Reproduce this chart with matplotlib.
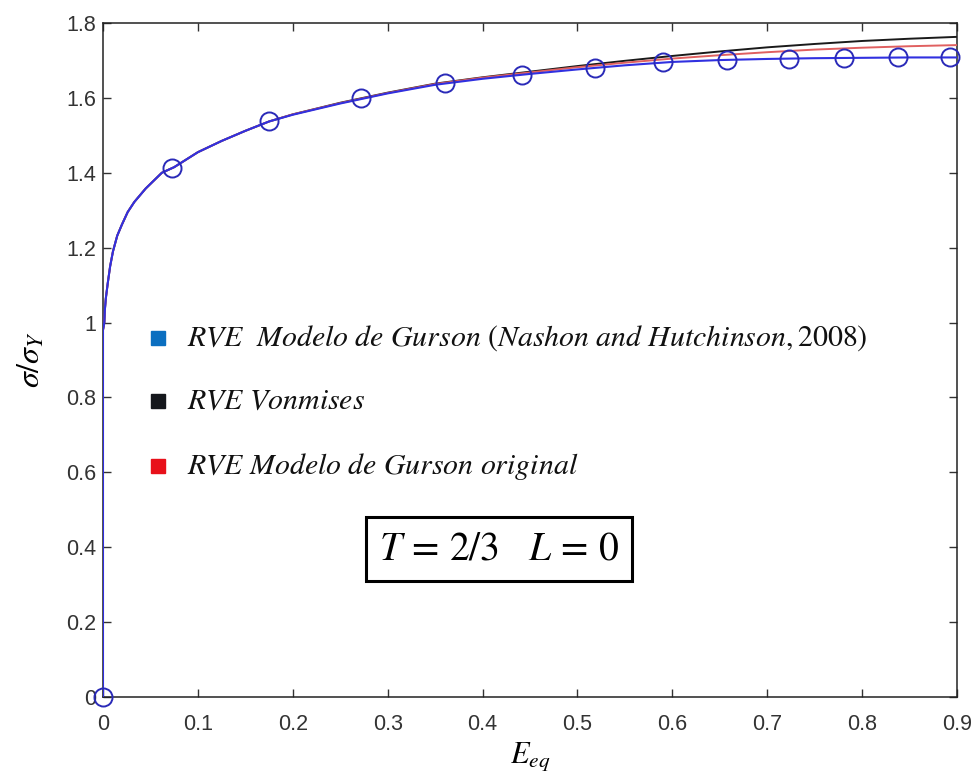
import matplotlib
matplotlib.use("Agg")
import matplotlib.pyplot as plt

# ---- data ----
strain = [0, 0, 0.0014, 0.002, 0.003, 0.005, 0.0075, 0.0105, 0.015, 0.02, 0.026, 0.033, 0.045,
          0.062, 0.075, 0.1, 0.125, 0.15, 0.175,
          0.2, 0.25, 0.3, 0.35, 0.4, 0.45, 0.5, 0.55, 0.6, 0.65, 0.7, 0.75, 0.8, 0.85, 0.9]
base = [0, 0.98, 1.0, 1.035, 1.065, 1.105, 1.15, 1.19, 1.232, 1.262, 1.295, 1.322, 1.358,
        1.4, 1.415, 1.455, 1.485, 1.512, 1.537]
gurson_nh = base + [1.555, 1.585, 1.612, 1.635, 1.651, 1.664, 1.676, 1.687, 1.696, 1.701, 1.704,
                    1.706, 1.707, 1.708, 1.708]
vonmises = base + [1.556, 1.587, 1.614, 1.638, 1.655, 1.670, 1.685, 1.699, 1.712, 1.724, 1.735,
                   1.744, 1.752, 1.758, 1.763]
gurson_orig = base + [1.556, 1.586, 1.613, 1.637, 1.654, 1.668, 1.682, 1.694, 1.705, 1.714, 1.722,
                      1.729, 1.734, 1.738, 1.741]
marker_x = [0, 0.073, 0.175, 0.272, 0.360, 0.442, 0.519, 0.590, 0.658, 0.723, 0.781, 0.838, 0.893]
marker_y = [0, 1.413, 1.537, 1.600, 1.639, 1.661, 1.680, 1.695, 1.701, 1.704, 1.707, 1.708, 1.708]

legend_labels = [r'$RVE\ \ Modelo\ de\ Gurson\ (Nashon\ and\ Hutchinson, 2008)$',
                 r'$RVE\ Vonmises$',
                 r'$RVE\ Modelo\ de\ Gurson\ original$']
legend_colors = ['#0b6fc0', '#15171c', '#e8101a']
xticks = [0, 0.1, 0.2, 0.3, 0.4, 0.5, 0.6, 0.7, 0.8, 0.9]
yticks = [0, 0.2, 0.4, 0.6, 0.8, 1.0, 1.2, 1.4, 1.6, 1.8]
ytick_labels = ['0', '0.2', '0.4', '0.6', '0.8', '1', '1.2', '1.4', '1.6', '1.8']

plt.rcParams['mathtext.fontset'] = 'stix'
plt.rcParams['font.family'] = ['Liberation Sans', 'DejaVu Sans']

fig = plt.figure(figsize=(9.77, 7.78), dpi=100)
ax = fig.add_axes([103/977, 1-697/778, (957-103)/977, (697-23)/778])

ax.plot(strain, vonmises, color='#1a1a1a', lw=1.4, zorder=2)
ax.plot(strain, gurson_orig, color='#e06060', lw=1.4, zorder=3)
ax.plot(strain, gurson_nh, color='#3030e0', lw=1.5, zorder=4)
ax.plot(marker_x, marker_y, ls='none', marker='o', ms=13, mfc='none', mec='#2a2ab8', mew=1.4,
        zorder=5, clip_on=False)

ax.set_xlim(0, 0.9)
ax.set_ylim(0, 1.8)
ax.set_xticks(xticks)
ax.set_xticklabels([('0' if t == 0 else f'{t:g}') for t in xticks])
ax.set_yticks(yticks)
ax.set_yticklabels(ytick_labels)
ax.tick_params(direction='in', length=6, width=1, top=True, right=True, labelsize=15.5,
               colors='#333333')
ax.tick_params(axis='x', pad=12)
ax.tick_params(axis='y', pad=5)
for s in ax.spines.values():
    s.set_linewidth(1.1)
    s.set_color('#222222')

ax.set_xlabel(r'$E_{eq}$', fontsize=22, labelpad=4)
ax.set_ylabel(r'$\sigma/\sigma_Y$', fontsize=23, labelpad=14)

# custom legend (squares + text)
leg_y = [338, 401, 466]
for lbl, col, py in zip(legend_labels, legend_colors, leg_y):
    yf = 1 - py/778
    fig.patches.append(plt.Rectangle((151/977, yf - 7/778), 14/977, 14/778,
                                     transform=fig.transFigure, color=col))
    fig.text(187/977, yf, lbl, fontsize=21.5, va='center', ha='left', color='#111111')

fig.text(499/977, 1 - 549/778, r'$T\,=\,2/3\ \ \ L\,=\,0$', fontsize=28.5, ha='center', va='center',
         bbox=dict(boxstyle='square,pad=0.33', fc='white', ec='black', lw=2.2))

fig.savefig('out.png', dpi=100)
